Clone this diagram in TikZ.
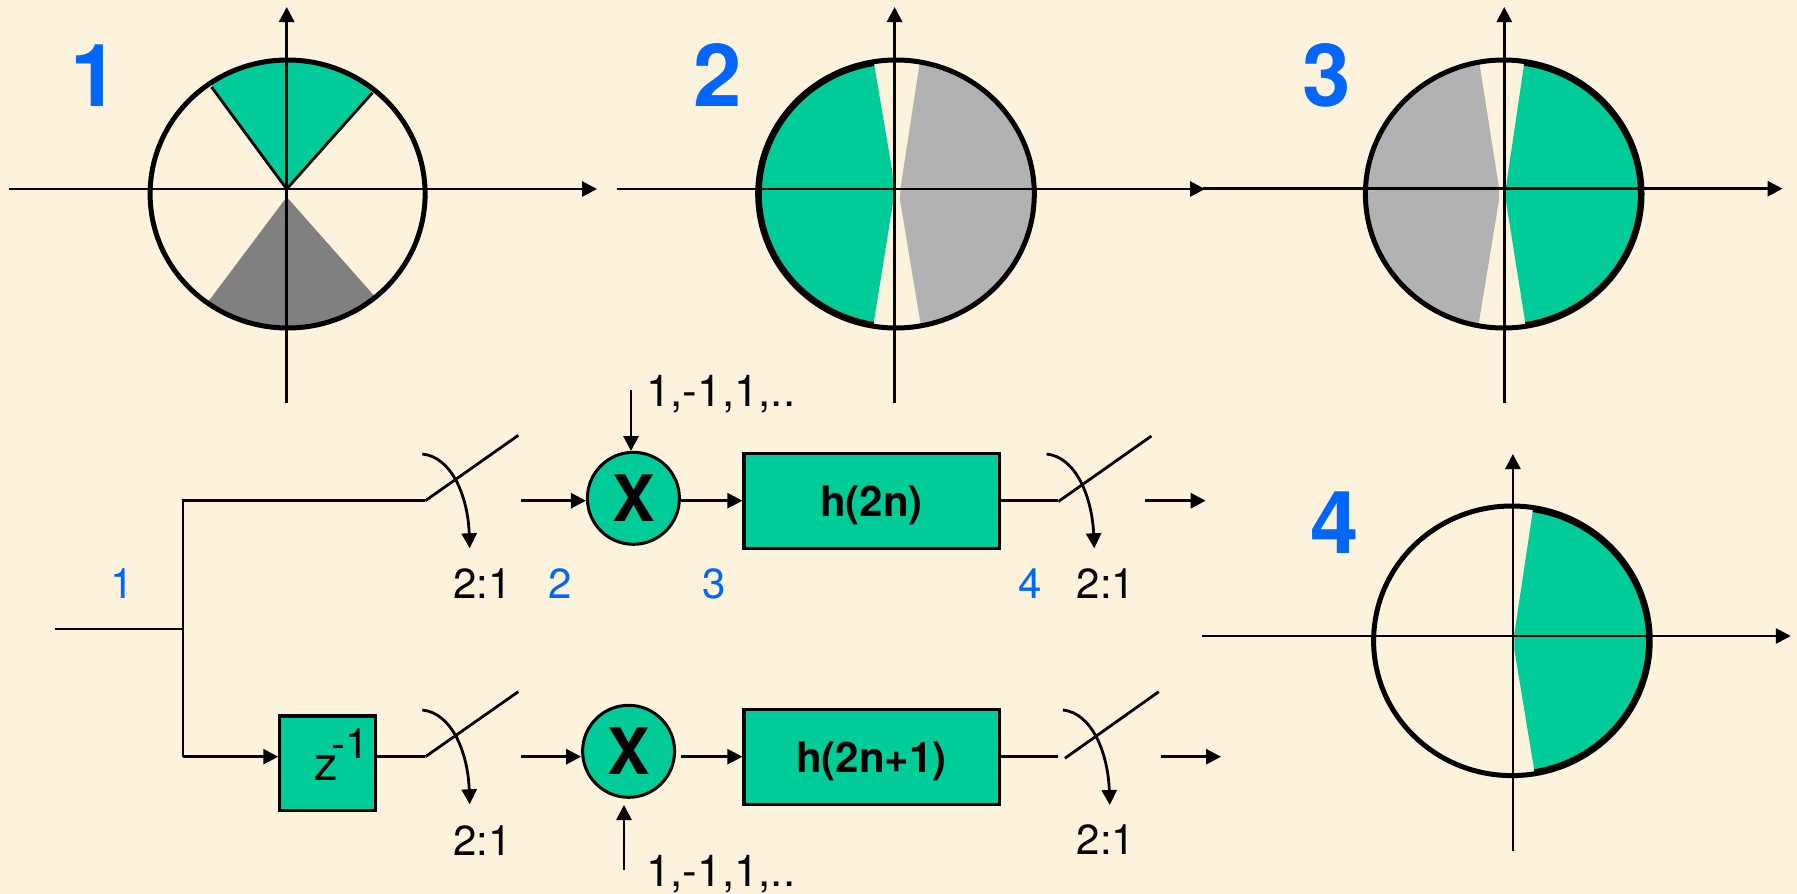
\documentclass[tikz,border=0pt]{standalone}
\usepackage{fontspec}
\setmainfont{TeX Gyre Heros}
\usetikzlibrary{arrows.meta}
\definecolor{bg}{HTML}{FDF2DC}
\definecolor{grn}{HTML}{00CC99}
\definecolor{blu}{HTML}{0066FF}
\definecolor{dgray}{HTML}{808080}
\definecolor{lgray}{HTML}{B2B2B2}
\tikzset{
  ln/.style={line width=2.8pt,black,line cap=butt},
  arr/.style={ln,-{Triangle[length=15pt,width=15pt]}},
  rim/.style={line width=5pt,black},
  inrim/.style={line width=2.6pt,black},
  bignum/.style={anchor=base,text=blu,inner sep=0pt,font=\fontsize{87}{87}\selectfont\bfseries},
  smallnum/.style={anchor=base,text=blu,inner sep=0pt,font=\fontsize{42}{42}\selectfont},
  txt/.style={anchor=base,inner sep=0pt,font=\fontsize{42}{42}\selectfont},
  seqtxt/.style={anchor=base west,inner sep=0pt,font=\fontsize{44}{44}\selectfont},
  sbox/.style={draw=black,fill=grn,line width=3.2pt,inner sep=0pt,font=\fontsize{42}{42}\selectfont\bfseries},
  mult/.style={circle,draw=black,fill=grn,line width=3pt,inner sep=0pt,minimum size=92pt,font=\fontsize{64}{64}\selectfont\bfseries},
}
\begin{document}
\begin{tikzpicture}[x=1pt,y=-1pt]
\useasboundingbox (0,0) rectangle (1797,894);
\fill[bg] (0,0) rectangle (1797,894);

% ---- plot 1
\begin{scope}
\clip (286.7,188) -- (205,76) -- (286.7,40) -- (380,82) -- cycle;
\fill[grn] (287.6,194) ellipse [x radius=137.5,y radius=134];
\end{scope}
\begin{scope}
\clip (286.7,197) -- (205,306) -- (286.7,345) -- (377,299) -- cycle;
\fill[dgray] (287.6,194) ellipse [x radius=137.5,y radius=134];
\end{scope}
\coordinate (p1o) at (286.7,189);
\coordinate (p1a) at (211.5,87);
\coordinate (p1b) at (372.5,92.7);
\draw[ln] (p1a) -- (p1o) -- (p1b);
\draw[rim] (287.6,194) ellipse [x radius=137.5,y radius=134];
\coordinate (p1l) at (9,189);
\coordinate (p1r) at (597,189);
\coordinate (p1t) at (286.7,7);
\coordinate (p1u) at (286.7,403);
\draw[arr] (p1l) -- (p1r);
\draw[arr] (p1u) -- (p1t);
\node[bignum] (n1) at (95,106) {1};

% ---- plot 2
\begin{scope}
\clip (871.4,48) -- (892.6,173) -- (893.4,200) -- (871,340) -- (740,345) -- (740,40) -- cycle;
\fill[grn] (896,194) ellipse [x radius=137,y radius=133];
\draw[inrim] (896,194) ellipse [x radius=135.5,y radius=131];
\end{scope}
\begin{scope}
\clip (922,48) -- (900.5,188) -- (900,200) -- (923.3,340) -- (1050,345) -- (1050,40) -- cycle;
\fill[lgray] (896,194) ellipse [x radius=137,y radius=133];
\end{scope}
\draw[rim] (896,194) ellipse [x radius=138.3,y radius=134];
\coordinate (p2l) at (616.6,189);
\coordinate (p2r) at (1205,189);
\coordinate (p2t) at (894.6,7);
\coordinate (p2u) at (894.6,403);
\draw[arr] (p2l) -- (p2r);
\draw[arr] (p2u) -- (p2t);
\node[bignum] (n2) at (717.6,106) {2};

% ---- plot 3
\begin{scope}
\clip (1526.5,48) -- (1505.8,188) -- (1505.8,200) -- (1528,340) -- (1660,345) -- (1660,40) -- cycle;
\fill[grn] (1503.7,194) ellipse [x radius=137,y radius=133];
\draw[inrim] (1503.7,194) ellipse [x radius=135.5,y radius=131];
\end{scope}
\begin{scope}
\clip (1477,48) -- (1499,188) -- (1499,200) -- (1476,340) -- (1350,345) -- (1350,40) -- cycle;
\fill[lgray] (1503.7,194) ellipse [x radius=137,y radius=133];
\end{scope}
\draw[rim] (1503.7,194) ellipse [x radius=138.3,y radius=134];
\coordinate (p3l) at (1203,188.7);
\coordinate (p3r) at (1782.6,188.7);
\coordinate (p3t) at (1504.3,7);
\coordinate (p3u) at (1504.3,403);
\draw[arr] (p3l) -- (p3r);
\draw[arr] (p3u) -- (p3t);
\node[bignum] (n3) at (1326.2,106) {3};

% ---- plot 4
\begin{scope}
\clip (1535,496) -- (1514.4,633.3) -- (1514.4,650) -- (1537,787) -- (1670,790) -- (1670,490) -- cycle;
\fill[grn] (1511.9,640.8) ellipse [x radius=137,y radius=133];
\draw[inrim] (1511.9,640.8) ellipse [x radius=135.5,y radius=131.5];
\end{scope}
\draw[rim] (1511.9,640.8) ellipse [x radius=138.3,y radius=134.8];
\coordinate (p4l) at (1201.6,636);
\coordinate (p4r) at (1790.8,636);
\coordinate (p4t) at (1512.9,454);
\coordinate (p4u) at (1512.9,850.7);
\draw[arr] (p4l) -- (p4r);
\draw[arr] (p4u) -- (p4t);
\node[bignum] (n4) at (1334.3,553.3) {4};

% ---- block diagram nodes
\coordinate (rowT) at (0,500.7);
\coordinate (rowB) at (0,756.7);
\node[sbox,minimum width=95.3pt,minimum height=94.7pt] (zd) at (327.5,763.3) {};
\node[anchor=base west,inner sep=0pt,font=\fontsize{47}{47}\selectfont] (zt) at (314.5,780)
  {z\kern-7pt\raisebox{22pt}{\fontsize{42}{42}\selectfont -1}};
\node[mult] (xt) at (633.4,498.3) {X};
\node[mult] (xb) at (628.6,751.3) {X};
\node[sbox,minimum width=255.2pt,minimum height=95pt] (ht) at (871.6,500.8) {};
\node[sbox,minimum width=255.2pt,minimum height=95pt] (hb) at (871.6,756.8) {};
\node[txt,font=\fontsize{42}{42}\selectfont\bfseries] (htt) at (871.4,516.7) {h(2n)};
\node[txt,font=\fontsize{42}{42}\selectfont\bfseries] (hbt) at (871.4,772.7) {h(2n+1)};

% ---- input split
\coordinate (in) at (54.5,629);
\coordinate (sp) at (183,629);
\coordinate (spt) at (183,500.7);
\coordinate (spb) at (183,756.7);
\coordinate (s1) at (425.4,500.7);
\coordinate (s1e) at (518.3,435.3);
\coordinate (s2) at (425.4,756.7);
\coordinate (s2e) at (518.3,691.7);
\draw[ln] (in) -- (sp);
\draw[ln,line join=miter] (s1) -- (spt) -- (spb);
\draw[arr] (spb) -- (zd.west |- rowB);
\draw[ln] (zd.east |- rowB) -- (s2);
\draw[ln] (s1) -- (s1e);
\draw[ln] (s2) -- (s2e);

% ---- down-sampler curves, first stage
\coordinate (c1a) at (422.3,454);
\coordinate (c1b) at (469.7,548.3);
\coordinate (c2a) at (422.3,710);
\coordinate (c2b) at (469.7,804.3);
\draw[arr] (c1a) .. controls (452,457) and (468,497) .. (c1b);
\draw[arr] (c2a) .. controls (452,713) and (468,753) .. (c2b);
\node[txt] (r1) at (482.5,598.3) {2:1};
\node[txt] (r2) at (482.5,855) {2:1};

% ---- to multipliers
\coordinate (a1) at (521,500.7);
\coordinate (a2) at (521,756.7);
\draw[arr] (a1) -- (xt.west |- rowT);
\draw[arr] (a2) -- (xb.west |- rowB);
\coordinate (m1) at (631,390);
\coordinate (m2) at (624,870);
\draw[arr] (m1) -- (631,451);
\draw[arr] (m2) -- (624,805);
\node[seqtxt] (l1) at (646,406.7) {1,-1,1,..};
\node[seqtxt] (l2) at (646,886.7) {1,-1,1,..};
\draw[arr] (xt.east |- rowT) -- (ht.west |- rowT);
\draw[arr] (680.8,756.7) -- (hb.west |- rowB);

% ---- outputs
\coordinate (s3) at (1058.4,501.5);
\coordinate (s3e) at (1151.4,436);
\coordinate (s4) at (1064.9,758.3);
\coordinate (s4e) at (1158.8,691.7);
\draw[ln] (ht.east |- rowT) -- (1058.4,500.7);
\draw[ln] (hb.east |- rowB) -- (1057.6,756.7);
\draw[ln] (s3) -- (s3e);
\draw[ln] (s4) -- (s4e);
\coordinate (c3a) at (1046.5,454);
\coordinate (c3b) at (1094.3,548.3);
\coordinate (c4a) at (1062.9,710);
\coordinate (c4b) at (1109.8,805);
\draw[arr] (c3a) .. controls (1076,457) and (1092,497) .. (c3b);
\draw[arr] (c4a) .. controls (1092,713) and (1108,753) .. (c4b);
\node[txt] (r3) at (1106,598.3) {2:1};
\node[txt] (r4) at (1106,854.3) {2:1};
\coordinate (o1a) at (1145.3,500.7);
\coordinate (o1b) at (1205.7,500.7);
\coordinate (o2a) at (1160.8,756.7);
\coordinate (o2b) at (1221,756.7);
\draw[arr] (o1a) -- (o1b);
\draw[arr] (o2a) -- (o2b);

% ---- stage numbers
\node[smallnum] (b1) at (122,598) {1};
\node[smallnum] (b2) at (559.7,598) {2};
\node[smallnum] (b3) at (714.3,598) {3};
\node[smallnum] (b4) at (1030,598) {4};
\end{tikzpicture}
\end{document}
